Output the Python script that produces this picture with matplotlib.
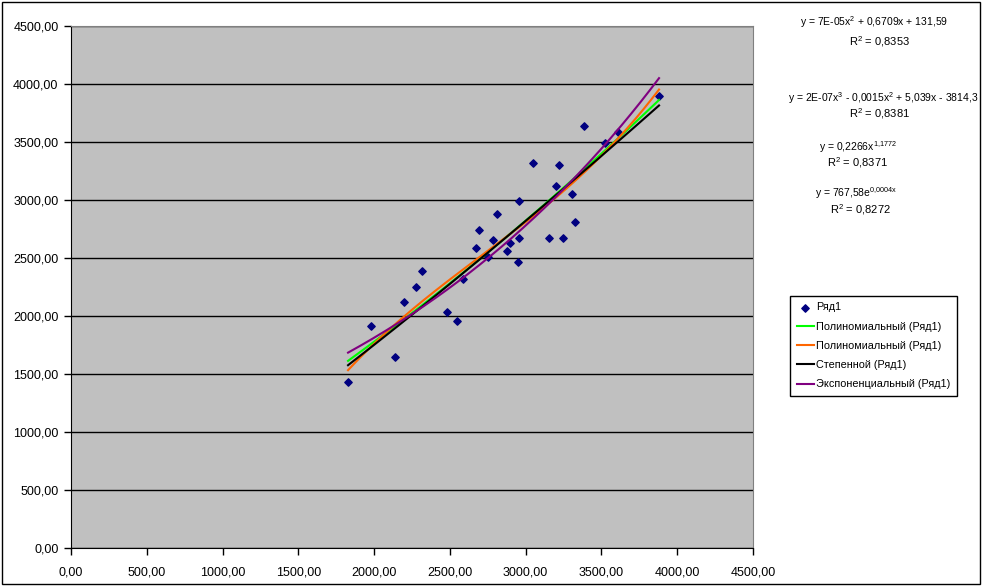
"""
Scatter with four Excel-style trendlines
"""

import numpy as np
import matplotlib
matplotlib.use("Agg")
import matplotlib.pyplot as plt
from matplotlib.patches import Rectangle
from matplotlib.ticker import FuncFormatter, MultipleLocator

# -------------------------------------------------
# Data
# -------------------------------------------------

x_vals = [1828, 1979, 2138, 2197, 2276, 2316, 2481, 2547, 2586, 2672,
          2692, 2751, 2784, 2811, 2877, 2897, 2949, 2956, 2956, 3048,
          3154, 3200, 3220, 3246, 3306, 3325, 3385, 3523, 3609, 3880]
y_vals = [1431, 1914, 1647, 2121, 2250, 2388, 2034, 1957, 2319, 2586,
          2741, 2509, 2655, 2879, 2560, 2629, 2466, 2672, 2991, 3319,
          2672, 3121, 3302, 2672, 3052, 2810, 3638, 3491, 3586, 3897]

series_name = "Ряд1"
trend_names = ["Полиномиальный (Ряд1)", "Полиномиальный (Ряд1)",
               "Степенной (Ряд1)", "Экспоненциальный (Ряд1)"]

eq_lines = [
    r"y = 7E-05x$^{2}$ + 0,6709x + 131,59",
    r"y = 2E-07x$^{3}$ - 0,0015x$^{2}$ + 5,039x - 3814,3",
    r"y = 0,2266x$^{1{,}1772}$",
    r"y = 767,58e$^{0{,}0004x}$",
]
r2_lines = [r"R$^{2}$ = 0,8353", r"R$^{2}$ = 0,8381",
            r"R$^{2}$ = 0,8371", r"R$^{2}$ = 0,8272"]

# -------------------------------------------------
# Style
# -------------------------------------------------

plt.rcParams["font.family"] = ["Liberation Sans", "DejaVu Sans"]
plt.rcParams["mathtext.fontset"] = "custom"
plt.rcParams["mathtext.rm"] = "Liberation Sans"
plt.rcParams["mathtext.it"] = "Liberation Sans"
plt.rcParams["mathtext.bf"] = "Liberation Sans"
plt.rcParams["mathtext.default"] = "regular"

# -------------------------------------------------
# Trendlines
# -------------------------------------------------

x = np.array(x_vals, dtype=float)
y = np.array(y_vals, dtype=float)
xs = np.linspace(x.min(), x.max(), 200)

p2 = np.polyfit(x, y, 2)
p3 = np.polyfit(x, y, 3)
pw = np.polyfit(np.log(x), np.log(y), 1)
ex = np.polyfit(x, np.log(y), 1)

curves = [
    np.polyval(p2, xs),
    np.polyval(p3, xs),
    np.exp(pw[1]) * xs ** pw[0],
    np.exp(ex[1]) * np.exp(ex[0] * xs),
]
colors = ["#00ff00", "#ff6600", "#000000", "#800080"]

# -------------------------------------------------
# Plot
# -------------------------------------------------

fig = plt.figure(figsize=(9.84, 5.86), dpi=100)
ax = fig.add_axes([71 / 984, 38 / 586, 682 / 984, 522 / 586])
ax.set_facecolor("#c0c0c0")

ax.scatter(x, y, marker="D", s=14, color="#000080", label=series_name, zorder=3)
for ys, c, name in zip(curves, colors, trend_names):
    ax.plot(xs, ys, color=c, lw=1.5, label=name, zorder=4)

ax.set_xlim(0, 4500)
ax.set_ylim(0, 4500)
ax.xaxis.set_major_locator(MultipleLocator(500))
ax.yaxis.set_major_locator(MultipleLocator(500))
fmt = FuncFormatter(lambda v, p: "{:.2f}".format(v).replace(".", ","))
ax.xaxis.set_major_formatter(fmt)
ax.yaxis.set_major_formatter(fmt)
ax.tick_params(labelsize=9, length=5, width=1, color="black", pad=4)
ax.tick_params(axis="x", pad=8)

ax.yaxis.grid(True, color="black", lw=1)
ax.set_axisbelow(True)
for side in ["left", "bottom"]:
    ax.spines[side].set_color("black")
for side in ["top", "right"]:
    ax.spines[side].set_color("#808080")

# -------------------------------------------------
# Equations
# -------------------------------------------------

eq_pos = [(948, 22), (978, 98), (897, 147), (897, 193)]
r2_pos = [(880, 42), (880, 114), (858, 163), (860, 210)]
for s, (px, py) in zip(eq_lines, eq_pos):
    fig.text(px / 984, 1 - py / 586, s, fontsize=7.5, ha="right", va="center")
for s, (px, py) in zip(r2_lines, r2_pos):
    fig.text(px / 984, 1 - py / 586, s, fontsize=8, ha="center", va="center")

# -------------------------------------------------
# Legend
# -------------------------------------------------

leg = ax.legend(loc="upper left", bbox_to_anchor=(790 / 984, 1 - 296 / 586),
                bbox_transform=fig.transFigure, frameon=True,
                prop={"size": 7.8},
                fancybox=False, edgecolor="black", framealpha=1,
                handlelength=1.6, handletextpad=0.2, borderpad=0.6,
                labelspacing=0.85, borderaxespad=0)
leg.get_frame().set_linewidth(1)

# figure border
fig.patches.append(Rectangle((0.002, 0.004), 0.994, 0.992, transform=fig.transFigure,
                             fill=False, edgecolor="black", lw=1))

plt.savefig("out.png", dpi=100)
plt.close()
